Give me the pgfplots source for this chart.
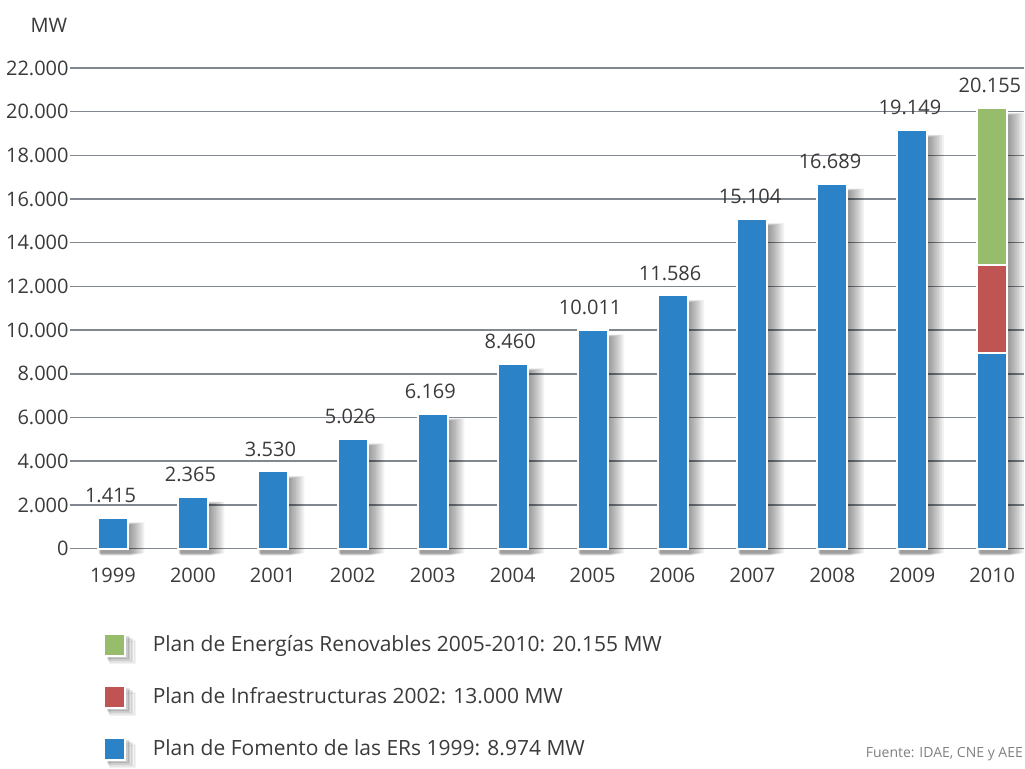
\documentclass[border=0pt]{standalone}
\usepackage{fontspec}
\setmainfont{Open Sans}
\usepackage{pgfplots}
\usepackage{pgfplotstable}
\pgfplotsset{compat=1.18}

\definecolor{barblue}{RGB}{43,130,198}
\definecolor{barred}{RGB}{192,84,82}
\definecolor{bargreen}{RGB}{150,188,108}
\definecolor{gridgray}{RGB}{128,135,142}
\definecolor{txt}{RGB}{58,58,58}

% installed capacity (MW) by year; 2010 holds the plan total
\pgfplotstableread{
x  total
0  1415
1  2365
2  3530
3  5026
4  6169
5  8460
6  10011
7  11586
8  15104
9  16689
10 19149
11 20155
}\totals

% Plan de Fomento de las ERs 1999 (blue part)
\pgfplotstableread{
x  mw
0  1415
1  2365
2  3530
3  5026
4  6169
5  8460
6  10011
7  11586
8  15104
9  16689
10 19149
11 8974
}\fomento

% one translucent layer of the soft bar shadow: #1 = spread
\pgfplotsset{
  shadowlayer/.style={forget plot, fill=black, draw=none, opacity=0.05,
    bar width=15pt+2*#1, xshift=1.5pt+0.7*#1, yshift=-3.5pt+0.3*#1},
}

\begin{document}
\begin{tikzpicture}
\path (-35pt,-107pt) rectangle (477.5pt,274.5pt);
\begin{axis}[
  scale only axis,
  width=477.5pt, height=240.5pt,
  xmin=-0.5375, xmax=11.4,
  ymin=0, ymax=22000,
  ybar, bar width=15pt, bar shift=0pt,
  clip=false,
  font=\fontsize{10}{12}\selectfont,
  axis x line*=bottom, axis y line*=left,
  x axis line style={draw=gridgray, line width=0.75pt, -},
  y axis line style={draw=none},
  ymajorgrids, grid style={draw=gridgray, line width=0.75pt},
  ytick={0,2000,...,22000},
  scaled y ticks=false,
  xtick={0,...,11},
  xticklabels={1999,2000,2001,2002,2003,2004,2005,2006,2007,2008,2009,2010},
  major tick length=0pt,
  x tick style={draw=none}, y tick style={draw=none},
  extra x ticks={0.5,1.5,...,10.5},
  extra x tick labels={},
  extra x tick style={grid=none, major tick length=3pt, tick align=outside,
    tick style={draw=gridgray, line width=0.6pt}},
  xticklabel style={yshift=-6pt, text=txt},
  yticklabel style={inner xsep=0.5pt, text=txt},
  /pgf/number format/.cd, 1000 sep={.}, assume math mode=true,
  /pgfplots/.cd,
  legend style={at={(rel axis cs:0.034,-0.172)}, anchor=north west,
    draw=none, fill=none, inner sep=0pt, row sep=9.8pt,
    font=\fontsize{10.5}{12.5}\selectfont, text=txt,
    /tikz/every odd column/.style={column sep=6.5pt}},
  legend cell align=left,
  legend image code/.code={
    \fill[black, opacity=0.10] (2pt,-7pt) rectangle (12.5pt,4pt);
    \fill[black, opacity=0.07] (2.5pt,-8pt) rectangle (14pt,3pt);
    \fill[black, opacity=0.05] (3pt,-9pt) rectangle (15.5pt,2pt);
    \draw[#1] (0pt,-5.5pt) rectangle (10.5pt,5.5pt);},
]
% soft shadow behind the bars, built up from translucent layers
\pgfplotsinvokeforeach{4,3.5,3,2.5,2,1.5,1,0.5,0}{
  \addplot[shadowlayer=#1pt] table[x=x, y=total] {\totals};
}
% Plan de Energías Renovables 2005-2010
\addplot[fill=bargreen, draw=white, line width=1pt]
  coordinates {(11,20155)};
% Plan de Infraestructuras 2002
\addplot[fill=barred, draw=white, line width=1pt]
  coordinates {(11,13000)};
% Plan de Fomento de las ERs 1999
\addplot[fill=barblue, draw=white, line width=1pt] table[x=x, y=mw] {\fomento};
% value labels over each bar
\addplot[draw=none, fill=none, forget plot, nodes near coords,
  nodes near coords style={anchor=south, yshift=4pt, xshift=-1.2pt,
    inner xsep=0pt, text=txt, font=\fontsize{10}{12}\selectfont}]
  table[x=x, y=total] {\totals};
\legend{Plan de Energías Renovables 2005-2010: 20.155 MW,
        Plan de Infraestructuras 2002: 13.000 MW,
        Plan de Fomento de las ERs 1999: 8.974 MW}
\node[text=txt] at (rel axis cs:-0.022,1.089) {MW};
\end{axis}
% source line
\node[anchor=base east, inner sep=0pt, font=\fontsize{7}{8.5}\selectfont,
  text=gray] at (477pt,-104.5pt) {Fuente: IDAE, CNE y AEE};
\end{tikzpicture}
\end{document}
